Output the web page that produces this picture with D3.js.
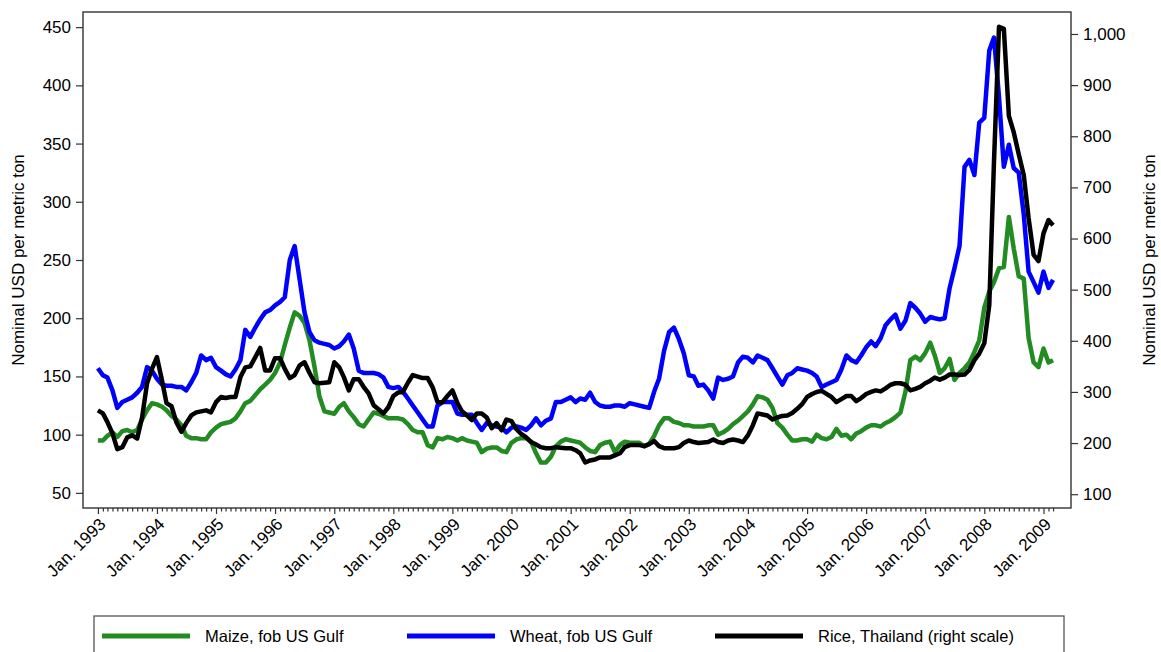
<!DOCTYPE html>
<html>
<head>
<meta charset="utf-8">
<script src="https://cdn.jsdelivr.net/npm/d3@7"></script>
<style>
body { margin: 0; background: #fff; }
text { font-family: "Liberation Sans", Arial, sans-serif; fill: #000; }
</style>
</head>
<body>
<div id="chart"></div>
<script>
// monthly prices, Jan. 1993 - Mar. 2009 (USD per metric ton)
const maize = [
	95, 95, 99, 102, 98, 103, 104, 102, 104, 113, 121, 127,
	126, 124, 121, 116, 113, 108, 99, 97, 97, 96, 96, 102,
	106, 109, 110, 111, 114, 120, 127, 129, 134, 139, 143, 147,
	153, 162, 177, 192, 205, 202, 196, 181, 158, 133, 120, 119,
	118, 124, 127, 120, 115, 109, 107, 113, 119, 118, 116, 114,
	114, 114, 113, 109, 104, 102, 102, 91, 89, 97, 96, 98,
	97, 95, 97, 95, 94, 93, 85, 88, 89, 89, 86, 85,
	93, 96, 97, 97, 94, 84, 76, 76, 81, 90, 94, 96,
	95, 94, 93, 89, 86, 85, 91, 93, 94, 85, 91, 94,
	93, 93, 93, 90, 92, 99, 108, 114, 114, 111, 110, 108,
	108, 107, 107, 107, 108, 108, 100, 102, 105, 109, 112, 116,
	120, 126, 133, 132, 130, 123, 110, 106, 100, 95, 95, 96,
	96, 94, 100, 97, 96, 98, 105, 99, 100, 96, 101, 103,
	106, 108, 108, 107, 110, 112, 115, 119, 137, 164, 167, 164,
	170, 179, 168, 153, 157, 165, 147, 153, 157, 162, 171, 181,
	209, 223, 231, 243, 244, 287, 260, 236, 234, 183, 162, 158,
	174, 162, 164
];
const wheat = [
	157, 151, 149, 138, 123, 128, 130, 132, 136, 141, 158, 155,
	148, 143, 142, 142, 141, 141, 138, 145, 153, 168, 164, 166,
	158, 155, 152, 150, 156, 164, 190, 184, 192, 199, 205, 207,
	211, 214, 218, 250, 262, 233, 205, 188, 181, 179, 178, 177,
	174, 176, 180, 186, 174, 155, 153, 153, 153, 152, 149, 141,
	140, 141, 137, 131, 125, 119, 113, 107, 107, 125, 128, 128,
	128, 118, 117, 117, 117, 110, 104, 110, 108, 107, 106, 102,
	106, 107, 106, 104, 108, 114, 108, 112, 114, 128, 128, 130,
	132, 128, 131, 130, 136, 128, 125, 124, 124, 125, 125, 124,
	127, 126, 125, 124, 123, 137, 148, 172, 188, 192, 182, 170,
	151, 150, 142, 143, 138, 131, 149, 147, 148, 150, 162, 167,
	166, 162, 168, 166, 164, 157, 150, 143, 151, 153, 157, 156,
	155, 153, 150, 141, 143, 145, 147, 156, 168, 164, 162, 168,
	175, 180, 176, 183, 194, 199, 203, 191, 198, 213, 209, 204,
	197, 201, 200, 199, 200, 226, 243, 262, 330, 336, 323, 368,
	372, 430, 441, 390, 330, 349, 329, 325, 289, 240, 231, 222,
	240, 226, 233
];
const rice = [
	264, 258, 241, 219, 188, 192, 211, 215, 209, 250, 317, 345,
	368, 323, 278, 272, 241, 222, 239, 254, 260, 262, 264, 260,
	280, 290, 288, 290, 290, 329, 348, 350, 368, 386, 342, 342,
	366, 366, 345, 327, 333, 352, 358, 337, 319, 317, 318, 319,
	358, 348, 329, 303, 325, 325, 310, 297, 274, 266, 258, 270,
	292, 299, 300, 318, 333, 330, 327, 327, 309, 280, 280, 292,
	303, 278, 262, 254, 245, 258, 258, 250, 229, 239, 225, 246,
	243, 227, 218, 211, 202, 197, 192, 190, 190, 192, 191, 190,
	190, 186, 180, 162, 166, 168, 172, 172, 172, 176, 180, 192,
	196, 196, 196, 194, 198, 204, 194, 190, 190, 190, 192, 200,
	205, 202, 200, 201, 202, 207, 202, 200, 205, 207, 205, 202,
	215, 235, 258, 256, 254, 246, 250, 253, 254, 259, 267, 276,
	290, 296, 300, 302, 296, 290, 280, 286, 292, 292, 282, 288,
	296, 300, 303, 301, 307, 314, 317, 317, 314, 303, 306, 310,
	317, 322, 328, 324, 328, 334, 334, 333, 334, 343, 362, 375,
	395, 470, 750, 1014, 1010, 840, 808, 765, 724, 640, 568, 556,
	610, 636, 626
];
const tick_years = d3.range(1993, 2010);
const left_ticks = [50, 100, 150, 200, 250, 300, 350, 400, 450];
const right_ticks = [100, 200, 300, 400, 500, 600, 700, 800, 900, 1000];
const series_names = ["Maize, fob US Gulf", "Wheat, fob US Gulf", "Rice, Thailand (right scale)"];
const series_colors = ["#228b22", "#0000ff", "#000000"];

const months = d3.timeMonth.range(new Date(1993, 0, 1), new Date(2009, 3, 1));

const margins = { top: 12, right: 90, bottom: 144, left: 83 };
const width = 1161 - margins.left - margins.right;
const height = 652 - margins.top - margins.bottom;

const x_scale = d3.scaleTime()
	.domain([new Date(1992, 9, 1), new Date(2009, 5, 20)])
	.range([0, width]);
const y_left = d3.scaleLinear().domain([37, 463]).range([height, 0]);
const y_right = d3.scaleLinear().domain([73, 1043]).range([height, 0]);

const svg = d3.select("#chart")
	.append("svg")
	.attr("width", 1161)
	.attr("height", 652);

const plot = svg.append("g")
	.attr("transform", "translate(" + margins.left + "," + margins.top + ")");

// axes
const y_axis_left = plot.append("g")
	.call(d3.axisLeft(y_left).tickValues(left_ticks).tickSize(7).tickPadding(5));
const y_axis_right = plot.append("g")
	.attr("transform", "translate(" + width + ",0)")
	.call(d3.axisRight(y_right).tickValues(right_ticks).tickSize(7).tickPadding(5).tickFormat(d3.format(",")));

const minor = plot.append("g")
	.attr("transform", "translate(0," + height + ")")
	.call(d3.axisBottom(x_scale).tickValues(months.filter(d => d.getMonth() != 0)).tickSize(3.5).tickFormat(""));

const x_axis = plot.append("g")
	.attr("transform", "translate(0," + height + ")")
	.call(d3.axisBottom(x_scale)
		.tickValues(tick_years.map(y => new Date(y, 0, 1)))
		.tickSize(6)
		.tickFormat(d => "Jan. " + d.getFullYear()));

[y_axis_left, y_axis_right, minor, x_axis].forEach(g => {
	g.select(".domain").remove();
	g.selectAll("line").attr("stroke", "#333").attr("stroke-width", 1.2);
	g.selectAll("text").style("font-size", "17px").attr("font-family", null);
});

x_axis.selectAll("text")
	.attr("x", 0).attr("y", 0).attr("dy", "0.35em")
	.attr("transform", "translate(4,13) rotate(-45)")
	.style("text-anchor", "end")
	.style("font-size", "17px");

plot.append("rect")
	.attr("width", width)
	.attr("height", height)
	.attr("fill", "none")
	.attr("stroke", "#333")
	.attr("stroke-width", 1.4);

// series
const line = (y) => d3.line()
	.x((d, i) => x_scale(months[i]))
	.y(d => y(d));

const all_series = [[maize, y_left], [wheat, y_left], [rice, y_right]];
all_series.forEach(([vals, y], i) => {
	plot.append("path")
		.datum(vals)
		.attr("fill", "none")
		.attr("stroke", series_colors[i])
		.attr("stroke-width", 4.5)
		.attr("stroke-linejoin", "round")
		.attr("d", line(y));
});

// axis titles
svg.append("text")
	.attr("transform", "translate(18," + (margins.top + height / 2) + ") rotate(-90)")
	.attr("text-anchor", "middle")
	.attr("dominant-baseline", "central")
	.style("font-size", "17px")
	.text("Nominal USD per metric ton");
svg.append("text")
	.attr("transform", "translate(1149," + (margins.top + height / 2) + ") rotate(-90)")
	.attr("text-anchor", "middle")
	.attr("dominant-baseline", "central")
	.style("font-size", "17px")
	.text("Nominal USD per metric ton");

// legend
const legend = svg.append("g");
legend.append("rect")
	.attr("x", 94).attr("y", 616)
	.attr("width", 970).attr("height", 60)
	.attr("fill", "#fff")
	.attr("stroke", "#555")
	.attr("stroke-width", 1.3);

const key_x = [102, 407, 715];
series_names.forEach((name, i) => {
	const g = legend.append("g").attr("transform", "translate(" + key_x[i] + ",636)");
	g.append("line")
		.attr("x1", 0).attr("x2", 88)
		.attr("stroke", series_colors[i])
		.attr("stroke-width", 5);
	g.append("text")
		.attr("x", 103)
		.attr("dy", "0.35em")
		.style("font-size", "16.5px")
		.text(name);
});
</script>
</body>
</html>
